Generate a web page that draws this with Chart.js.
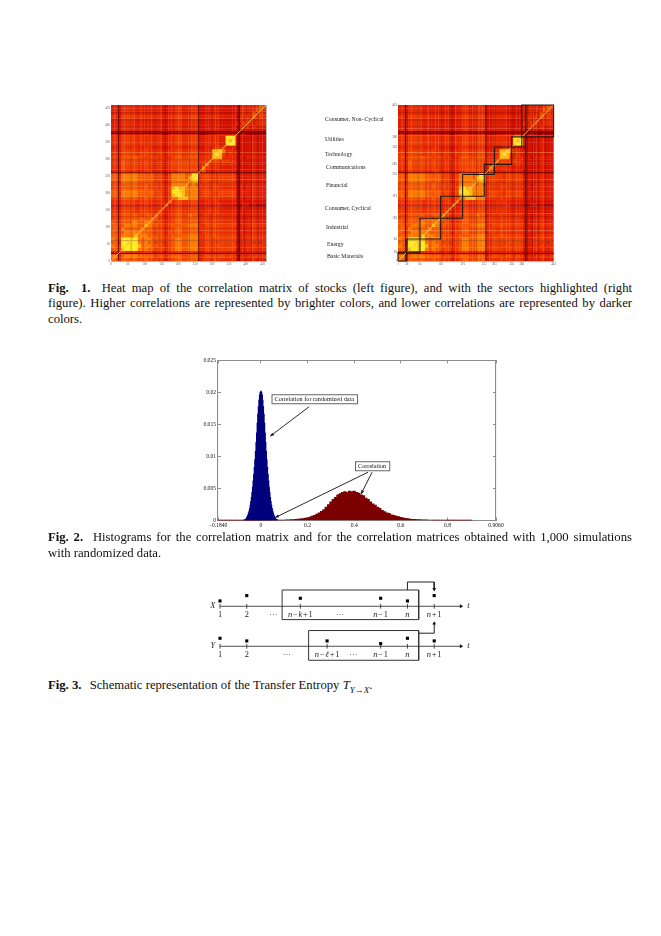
<!DOCTYPE html>
<html>
<head>
<meta charset="utf-8">
<script src="https://cdn.jsdelivr.net/npm/chart.js@4"></script>
<style>
html,body{margin:0;padding:0;background:#fff;}
body{position:relative;width:661px;height:936px;overflow:hidden;font-family:"Liberation Serif",serif;color:#111;}
canvas{position:absolute;}
.soft{filter:blur(.35px);}
.cap{position:absolute;left:48px;width:584px;font-size:12.7px;line-height:15px;white-space:nowrap;text-align:justify;text-align-last:justify;}
.cap.end{text-align-last:left;}
.cap b{margin-right:5px;}
.sec{position:absolute;left:325px;font-size:5.8px;line-height:7px;color:#222;white-space:nowrap;filter:blur(.2px);}
</style>
</head>
<body>
<canvas id="heatLeft" class="soft" width="175" height="170" style="left:95px;top:100px"></canvas>
<canvas id="heatRight" class="soft" width="177" height="170" style="left:382px;top:100px"></canvas>
<canvas id="hist" class="soft" width="320" height="185" style="left:190px;top:352px"></canvas>
<canvas id="schema" class="soft" width="290" height="100" style="left:190px;top:570px"></canvas>

<div class="sec" style="top:116px">Consumer, Non&#8211;Cyclical</div>
<div class="sec" style="top:136px">Utilities</div>
<div class="sec" style="top:151px">Technology</div>
<div class="sec" style="top:164px;left:326px">Communications</div>
<div class="sec" style="top:182px;left:326px">Financial</div>
<div class="sec" style="top:205px">Consumer, Cyclical</div>
<div class="sec" style="top:224px;left:326px">Industrial</div>
<div class="sec" style="top:241px;left:327px">Energy</div>
<div class="sec" style="top:253px;left:327px">Basic Materials</div>

<div class="cap" style="top:281px"><b>Fig. &nbsp;1.</b> Heat map of the correlation matrix of stocks (left figure), and with the sectors highlighted (right</div>
<div class="cap" style="top:296px">figure). Higher correlations are represented by brighter colors, and lower correlations are represented by darker</div>
<div class="cap end" style="top:312px">colors.</div>
<div class="cap" style="top:530px"><b>Fig. 2.</b> Histograms for the correlation matrix and for the correlation matrices obtained with 1,000 simulations</div>
<div class="cap end" style="top:546px">with randomized data.</div>
<div class="cap end" style="top:678px"><b>Fig. 3.</b> Schematic representation of the Transfer Entropy <i>T<sub style="font-size:9px;line-height:0">Y&#8594;X</sub></i>.</div>

<script>
// heat map, one digit per 10x10 block of stocks, bottom row first
var heatRows = [
"6646666655655544345665566634445444444233334333",
"7736777766666555456665566634555455454233344434",
"3325444433443332234443344422333333333122223222",
"6658999976766555456776677744555455555233444434",
"7659999986776655456776677744555555555333445444",
"6649999976766554456776677744555455555233444434",
"7659999976776655456776677744555555555333445444",
"6657777877766655456666677744556555555333445444",
"6546777776665554355665566634445444444232334333",
"6647666667665544345665566644445444444232334333",
"6656777766876655456666677744556555555333445444",
"6546667766776554345665566634445444444232334333",
"5546666666667644345665566644445444444232334333",
"5546666655665754345665576634445444444232334333",
"4435555444544453234554455533344433333222223222",
"4435555444544445334554455533344433333222223222",
"3324444333433333623443344422233332222112212111",
"4435555444544444364554455533344433333222223222",
"5546666655655554356788877744445444444232334333",
"6647777766666554358998777745555455555233334333",
"6647777766666554359998777745555455555233334333",
"5546666655655544358988777744445444444232334333",
"5546666655655544347777767644445444444232334333",
"6647777766666554357777778845555455555233334333",
"6647777766666554357777689945555455555233334333",
"6647777766666554357777679955555455555233334333",
"3325444433443332234455555526233333333122223222",
"4436555544544443345555555537444433333222223222",
"4436555544544443345555555534744434343222223222",
"4436555544544443345555555544465545544222223222",
"5546666655555544345665566644458884444232334333",
"4435555444544443344554455533348985343222223222",
"4435555444544443344554455533348897443222223222",
"3335444433443332234443344422334544333122223222",
"4435555444444443344554455533344433999222223222",
"4435555444444443344554455533344433989222223222",
"4435555444444443344554455533344433999222223222",
"2213333222322221123332233311122222222112111111",
"3324444333333332233443344422233322222212222222",
"3324444333333332233443344422233322223243434333",
"3324444333333332233443344422233322222435443444",
"3324444333333332233443344422233322222344543444",
"4425555444444443344554455533344433333244446454",
"3324444333333332233443344422233322222334346454",
"3324444333333332233443344422233322222334344654",
"3324444333333332233443344422233322222334343565"
];
var heatColors = ["#700000","#b40000","#d81000","#e21c00","#ea2c00","#f03e00","#f65600","#fb7a00","#ffb810","#ffe820"];
var stockCount = 460;
var blockSize = 10;
var darkStocks = [22, 260, 377, 381];
var midStocks = [60, 130, 161, 232, 300, 340, 398, 416, 437];
var brightStocks = [14, 88, 110, 148, 205, 240, 285, 320];

// sector limits on the right map
var sectorEdges = [0, 26, 65, 126, 191, 255, 285, 336, 366, 460];
var sectorTickLabels = ["1", "26", "65", "126", "191", "255", "285", "336", "366", "461"];
var plainTicks = [0, 50, 100, 150, 200, 250, 300, 350, 400, 450];

// histograms
var histBlueStart = -0.07, histBlueStep = 0.0025;
var histBlue = [.0001,.00015,.0002,.0003,.0005,.0007,.0009,.0012,.0015,.0019,.0024,.003,.0036,.0044,.0052,.0062,.0072,.0083,.0095,.0108,.0122,.0137,.0152,.0166,.0178,.0188,.0196,.02,
 .0202,
 .02,.0196,.0188,.0178,.0166,.0152,.0137,.0122,.0108,.0095,.0083,.0072,.0062,.0052,.0044,.0036,.003,.0024,.0019,.0015,.0012,.0009,.0007,.0005,.0003,.0002,.00015,.0001];
var histRedStart = -0.18, histRedStep = 0.01;
var histRed = [.00002,.00002,.00002,.00002,.00002,.00002,.00002,.00002,.00002,.00002,.00002,.00002,.00002,.00002,.00002,.00002,.00002,.00002,
 .00002,.00002,.00003,.00003,.00004,.00004,.00005,.00006,.00006,.00007,
 .00008,.0001,.00012,.00013,.00016,.00019,.00022,.00027,.00031,.00036,
 .00043,.00055,.0007,.00082,.001,.00118,.00145,.00172,.0021,.0025,
 .0029,.0033,.0036,.004,.0042,.0044,.0045,.0044,.0046,.0045,
 .0046,.0044,.0043,.004,.0039,.0035,.0033,.0029,.0026,.0024,
 .0021,.0019,.0016,.0014,.0012,.0011,.0009,.0008,.0007,.0006,
 .0005,.0004,.00035,.0003,.00024,.0002,.00018,.00015,.00013,.00012,
 .0001,.00009,.00008,.00008,.00007,.00006,.00005,.00005,.00004,.00004,
 .00003,.00003,.00003,.00003,.00002,.00002,.00002,.00002,.00002,.00002,.00002];
var histXTicks = [-0.184, 0, 0.2, 0.4, 0.6, 0.8, 1.008];
var histXLabels = ["\u22120.1840", "0", "0.2", "0.4", "0.6", "0.8", "0.9060"];
var histYTicks = [0, 0.005, 0.01, 0.015, 0.02, 0.025];
var histYLabels = ["0", "0.005", "0.01", "0.015", "0.02", "0.025"];

// schematic, time slots and square heights over each line
var xSlots = [0, 1, 3, 6, 7, 8];
var xHeights = [2, 4, 3, 3, 2, 4];
var ySlots = [0, 1, 4, 6, 7, 8];
var yHeights = [3, 2, 2, 1, 3, 2];
var xBase = 15, yBase = 0;
var xLabelSlots = [0, 1, 1.99, 3, 4.48, 6, 7, 8];
var xLabels = ["1", "2", "\u00b7\u00b7\u00b7", "n\u2212k+1", "\u00b7\u00b7\u00b7", "n\u22121", "n", "n+1"];
var yLabelSlots = [0, 1, 2.5, 4, 4.98, 6, 7, 8];
var yLabels = ["1", "2", "\u00b7\u00b7\u00b7", "n\u2212\u2113+1", "\u00b7\u00b7\u00b7", "n\u22121", "n", "n+1"];

Chart.defaults.animation = false;
Chart.defaults.responsive = false;
Chart.defaults.font.family = "Liberation Serif";
Chart.defaults.plugins.legend.display = false;
Chart.defaults.plugins.tooltip.enabled = false;
Chart.defaults.layout.autoPadding = false;

function setTicks(values) {
    return function (scale) { scale.ticks = values.map(function (v) { return { value: v }; }); };
}
function labelsFrom(values, labels) {
    return function (v) { return labels[values.indexOf(v)]; };
}
function lineSet(points, color, width, order) {
    return { type: "line", data: points, borderColor: color, borderWidth: width, pointRadius: 0, fill: false, tension: 0, order: order, clip: false };
}

function heatAxis(pos, ticks, labels, size, showLabels) {
    var s = {
        type: "linear", position: pos, min: 0, max: stockCount,
        border: { color: "#aaa", width: 0.8 },
        grid: { drawOnChartArea: false, tickLength: -2, tickColor: "#777", tickWidth: 0.5 },
        ticks: { display: showLabels, font: { size: 3.2 }, color: "#555", padding: 3, autoSkip: false, maxRotation: 0, callback: labelsFrom(ticks, labels) },
        afterBuildTicks: setTicks(ticks),
        afterFit: function (scale) { if (pos == "left" || pos == "right") scale.width = size; else scale.height = size; }
    };
    return s;
}

function heatChart(id, ticks, labels, withSectors, rightPad) {
    var cells = [], colors = [];
    heatRows.forEach(function (row, r) {
        for (var c = 0; c < row.length; c++) {
            cells.push({ x: c * blockSize + blockSize / 2, y: r * blockSize + blockSize / 2 });
            colors.push(heatColors[+row[c]]);
        }
    });
    var sets = [{
        type: "scatter", data: cells, order: 9,
        pointStyle: "rect", pointBackgroundColor: colors, pointBorderWidth: 0,
        pointRadius: function (ctx) {
            var x = ctx.chart.scales.x;
            return (x.getPixelForValue(blockSize) - x.getPixelForValue(0)) * 0.75;
        }
    }];
    brightStocks.forEach(function (s) {
        sets.push(lineSet([{ x: s, y: 0 }, { x: s, y: stockCount }], "rgba(255,170,0,.18)", 1, 8));
        sets.push(lineSet([{ x: 0, y: s }, { x: stockCount, y: s }], "rgba(255,170,0,.18)", 1, 8));
    });
    midStocks.forEach(function (s) {
        sets.push(lineSet([{ x: s, y: 0 }, { x: s, y: stockCount }], "rgba(90,0,0,.28)", 1, 7));
        sets.push(lineSet([{ x: 0, y: s }, { x: stockCount, y: s }], "rgba(90,0,0,.28)", 1, 7));
    });
    darkStocks.forEach(function (s) {
        sets.push(lineSet([{ x: s, y: 0 }, { x: s, y: stockCount }], "rgba(70,0,0,.8)", 1, 6));
        sets.push(lineSet([{ x: 0, y: s }, { x: stockCount, y: s }], "rgba(70,0,0,.8)", 1, 6));
    });
    sets.push(lineSet([{ x: 0, y: 0 }, { x: stockCount, y: stockCount }], "rgba(255,190,70,.95)", 1, 5));
    if (withSectors) {
        for (var i = 0; i < sectorEdges.length - 1; i++) {
            var a = sectorEdges[i], b = sectorEdges[i + 1];
            sets.push(lineSet([{ x: a, y: a }, { x: b, y: a }, { x: b, y: b }, { x: a, y: b }, { x: a, y: a }], "#2a1a12", 1.1, 1));
        }
    }
    new Chart(id, {
        data: { datasets: sets },
        options: {
            layout: { padding: { top: 5, right: rightPad, left: 0, bottom: 0 } },
            scales: {
                x: heatAxis("bottom", ticks, labels, 9, true),
                y: heatAxis("left", ticks, labels, 16, true),
                x2: heatAxis("top", ticks, labels, 0, false),
                y2: heatAxis("right", ticks, labels, 0, false)
            }
        }
    });
}
heatChart("heatLeft", plainTicks, plainTicks, false, 4);
heatChart("heatRight", sectorEdges, sectorTickLabels, true, 3);

// text boxes and arrows on the histogram, in data coordinates
var histNotes = [
    { text: "Correlation for randomized data", x: 0.231, y: 0.01893 },
    { text: "Correlation", x: 0.479, y: 0.00847 }
];
var histArrows = [
    [0.207, 0.01777, 0.04, 0.01317],
    [0.4595, 0.00754, 0.0612, 0.00046],
    [0.4767, 0.00754, 0.4295, 0.00414]
];

function histAxis(pos, ticks, labels, size, showLabels) {
    var horizontal = pos == "bottom" || pos == "top";
    return {
        type: "linear", position: pos, offset: false,
        min: horizontal ? -0.184 : 0, max: horizontal ? 1.008 : 0.025,
        border: { color: "#8c8c8c", width: 1.1 },
        grid: { offset: false, drawOnChartArea: false, tickLength: -3, tickColor: "#444", tickWidth: 0.6 },
        ticks: { display: showLabels, font: { size: 5.6 }, color: "#111", padding: 5, autoSkip: false, maxRotation: 0, callback: labelsFrom(ticks, labels) },
        afterBuildTicks: setTicks(ticks),
        afterFit: function (scale) { if (horizontal) scale.height = size; else scale.width = size; }
    };
}

new Chart("hist", {
    type: "bar",
    data: {
        datasets: [
            { data: histBlue.map(function (v, i) { return { x: histBlueStart + i * histBlueStep, y: v }; }), backgroundColor: "#00007e", barThickness: 1, grouped: false, order: 1 },
            { data: histRed.map(function (v, i) { return { x: histRedStart + i * histRedStep, y: v }; }), backgroundColor: "#7c0000", barThickness: 2.5, grouped: false, order: 2 }
        ]
    },
    options: {
        layout: { padding: { top: 7, right: 14, left: 0, bottom: 0 } },
        scales: {
            x: histAxis("bottom", histXTicks, histXLabels, 16.5, true),
            y: histAxis("left", histYTicks, histYLabels, 28, true),
            x2: histAxis("top", histXTicks, histXLabels, 0, false),
            y2: histAxis("right", histYTicks, histYLabels, 0, false)
        }
    },
    plugins: [{
        id: "histNotes",
        afterDraw: function (chart) {
            var ctx = chart.ctx, sx = chart.scales.x, sy = chart.scales.y;
            ctx.save();
            ctx.strokeStyle = "#111";
            ctx.fillStyle = "#111";
            ctx.lineWidth = 0.9;
            histArrows.forEach(function (a) {
                var x1 = sx.getPixelForValue(a[0]), y1 = sy.getPixelForValue(a[1]);
                var x2 = sx.getPixelForValue(a[2]), y2 = sy.getPixelForValue(a[3]);
                var ang = Math.atan2(y2 - y1, x2 - x1);
                ctx.beginPath(); ctx.moveTo(x1, y1); ctx.lineTo(x2, y2); ctx.stroke();
                ctx.beginPath();
                ctx.moveTo(x2, y2);
                ctx.lineTo(x2 - 4 * Math.cos(ang - .4), y2 - 4 * Math.sin(ang - .4));
                ctx.lineTo(x2 - 4 * Math.cos(ang + .4), y2 - 4 * Math.sin(ang + .4));
                ctx.fill();
            });
            ctx.font = "6.2px 'Liberation Serif'";
            ctx.textBaseline = "middle";
            histNotes.forEach(function (n) {
                var x = sx.getPixelForValue(n.x), y = sy.getPixelForValue(n.y);
                var w = ctx.measureText(n.text).width + 6;
                ctx.fillStyle = "#fff";
                ctx.fillRect(x - w / 2, y - 4.5, w, 9);
                ctx.strokeStyle = "#666";
                ctx.lineWidth = 1;
                ctx.strokeRect(x - w / 2, y - 4.5, w, 9);
                ctx.fillStyle = "#111";
                ctx.fillText(n.text, x - w / 2 + 2.5, y);
            });
            ctx.restore();
        }
    }]
});

function rowPoints(slots, heights, base) {
    return slots.map(function (s, i) { return { x: s, y: base + heights[i] }; });
}
function tickPoints(slots, base) {
    return slots.map(function (s) { return { x: s, y: base }; });
}
function boxPoints(a, b, top, bottom) {
    return [{ x: a, y: top }, { x: b, y: top }, { x: b, y: bottom }, { x: a, y: bottom }, { x: a, y: top }];
}
function tipSet(x, y, rotation) {
    return { type: "scatter", data: [{ x: x, y: y }], pointStyle: "triangle", pointRadius: 2.2, pointRotation: rotation, pointBackgroundColor: "#111", pointBorderWidth: 0, order: 1 };
}
function squares(points) {
    return { type: "scatter", data: points, pointStyle: "rect", pointRadius: 2.2, pointBackgroundColor: "#000", pointBorderWidth: 0, order: 0 };
}
function tickMarks(points) {
    return { type: "scatter", data: points, pointStyle: "line", pointRadius: 2.4, pointRotation: 90, pointBorderColor: "#222", pointBorderWidth: 0.8, order: 2 };
}

new Chart("schema", {
    data: {
        datasets: [
            squares(rowPoints(xSlots, xHeights, xBase)),
            squares(rowPoints(ySlots, yHeights, yBase)),
            tickMarks(tickPoints(xSlots, xBase)),
            tickMarks(tickPoints(ySlots, yBase)),
            lineSet([{ x: 0, y: xBase }, { x: 9, y: xBase }], "#222", 0.8, 3),
            lineSet([{ x: 0, y: yBase }, { x: 9, y: yBase }], "#222", 0.8, 3),
            tipSet(9, xBase, 90),
            tipSet(9, yBase, 90),
            lineSet(boxPoints(2.32, 7.42, xBase + 6.1, xBase - 5), "#333", 1, 3),
            lineSet(boxPoints(3.31, 7.42, yBase + 5.9, yBase - 5.25), "#333", 1, 3),
            lineSet([{ x: 7, y: xBase + 6.1 }, { x: 7, y: xBase + 9.1 }, { x: 8, y: xBase + 9.1 }, { x: 8, y: xBase + 6.6 }], "#222", 1, 3),
            tipSet(8, xBase + 6.4, 180),
            lineSet([{ x: 7.42, y: yBase + 4.9 }, { x: 8, y: yBase + 4.9 }, { x: 8, y: yBase + 8.3 }], "#222", 1, 3),
            tipSet(8, yBase + 8.6, 0)
        ]
    },
    options: {
        layout: { padding: 0 },
        scales: {
            x: { type: "linear", display: false, min: -1.12, max: 9.71 },
            y: { type: "linear", display: false, min: -8.9, max: 28.6 }
        }
    },
    plugins: [{
        id: "schemaText",
        afterDraw: function (chart) {
            var ctx = chart.ctx, sx = chart.scales.x, sy = chart.scales.y;
            function write(text, slot, level) {
                var parts = text.split("").map(function (ch) {
                    var op = ch == "\u2212" || ch == "+";
                    return { ch: ch, op: op, font: (/[a-zA-Z\u2113]/.test(ch) ? "italic " : "") + "8.4px 'Liberation Serif'" };
                });
                var w = 0;
                parts.forEach(function (p) { ctx.font = p.font; p.w = ctx.measureText(p.ch).width + (p.op ? 1.6 : 0); w += p.w; });
                var x = sx.getPixelForValue(slot) - w / 2, y = sy.getPixelForValue(level);
                parts.forEach(function (p) { ctx.font = p.font; ctx.fillText(p.ch, x + (p.op ? 0.8 : 0), y); x += p.w; });
            }
            ctx.save();
            ctx.fillStyle = "#222";
            ctx.textBaseline = "middle";
            xLabels.forEach(function (t, i) { write(t, xLabelSlots[i], xBase - 3.2); });
            yLabels.forEach(function (t, i) { write(t, yLabelSlots[i], yBase - 3.3); });
            write("X", -0.27, xBase);
            write("Y", -0.27, yBase);
            write("t", 9.28, xBase);
            write("t", 9.28, yBase);
            ctx.restore();
        }
    }]
});
</script>
</body>
</html>
